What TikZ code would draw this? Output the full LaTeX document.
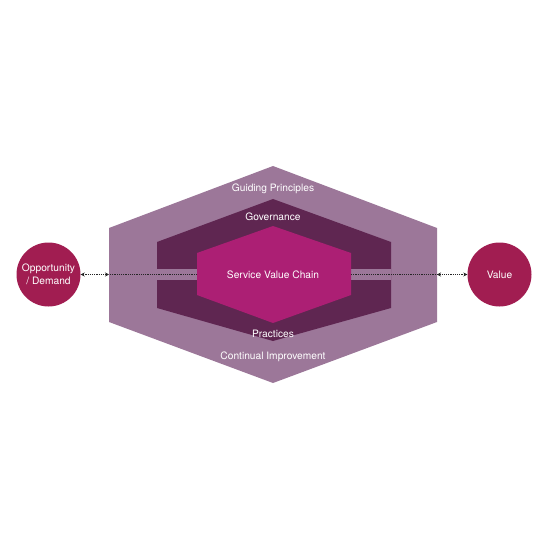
\documentclass[tikz,border=0pt]{standalone}
\usepackage{fontspec}
\setmainfont{TeX Gyre Heros}
\usetikzlibrary{arrows.meta}
\definecolor{outerc}{RGB}{156,119,153}
\definecolor{midc}{RGB}{95,38,81}
\definecolor{innerc}{RGB}{172,31,116}
\definecolor{circc}{RGB}{161,29,81}
\tikzset{
  lbl/.style={text=white, font=\fontsize{10.2}{12}\selectfont, inner sep=0pt},
  endcircle/.style={circle, fill=circc, minimum size=64pt, inner sep=0pt, text=white, font=\fontsize{10.2}{12.5}\selectfont, align=center},
  link/.style={densely dotted, line width=1.2pt, black!85, {Stealth[length=4pt,width=4pt]}-{Stealth[length=4pt,width=4pt]}},
  inlink/.style={densely dotted, line width=1.2pt, black!85}
}
\begin{document}
\begin{tikzpicture}[x=1pt,y=-1pt]
\useasboundingbox (0,0) rectangle (545,545);
% outer hexagon
\fill[outerc] (273,166) -- (437,228) -- (437,322) -- (273,383) -- (109,322) -- (109,228) -- cycle;
% middle hexagon
\fill[midc] (273,199) -- (391,242) -- (391,308) -- (273,341) -- (157,308) -- (157,242) -- cycle;
% band
\fill[outerc] (157,269) rectangle (391,280);
% inner hexagon
\fill[innerc] (273,226) -- (351,253) -- (351,295) -- (273,323) -- (197,295) -- (197,253) -- cycle;
\coordinate (svcW) at (197,274.5);
\coordinate (svcE) at (351,274.5);
\coordinate (hexW) at (109,274.5);
\coordinate (hexE) at (437,274.5);
% labels
\node[lbl] (gp) at (273,189) {Guiding Principles};
\node[lbl] (gov) at (273,217) {Governance};
\node[lbl] (svc) at (273,275) {Service Value Chain};
\node[lbl] (prac) at (273,334) {Practices};
\node[lbl] (ci) at (273,357) {Continual Improvement};
% circles
\node[endcircle] (opp) at (48.5,274.5) {Opportunity\\/ Demand};
\node[endcircle] (val) at (499.5,274.5) {Value};
% connectors
\draw[inlink] (svcW) -- (hexW);
\draw[inlink] (svcE) -- (hexE);
\draw[link] (opp.east) -- (hexW);
\draw[link] (hexE) -- (val.west);
\end{tikzpicture}
\end{document}
